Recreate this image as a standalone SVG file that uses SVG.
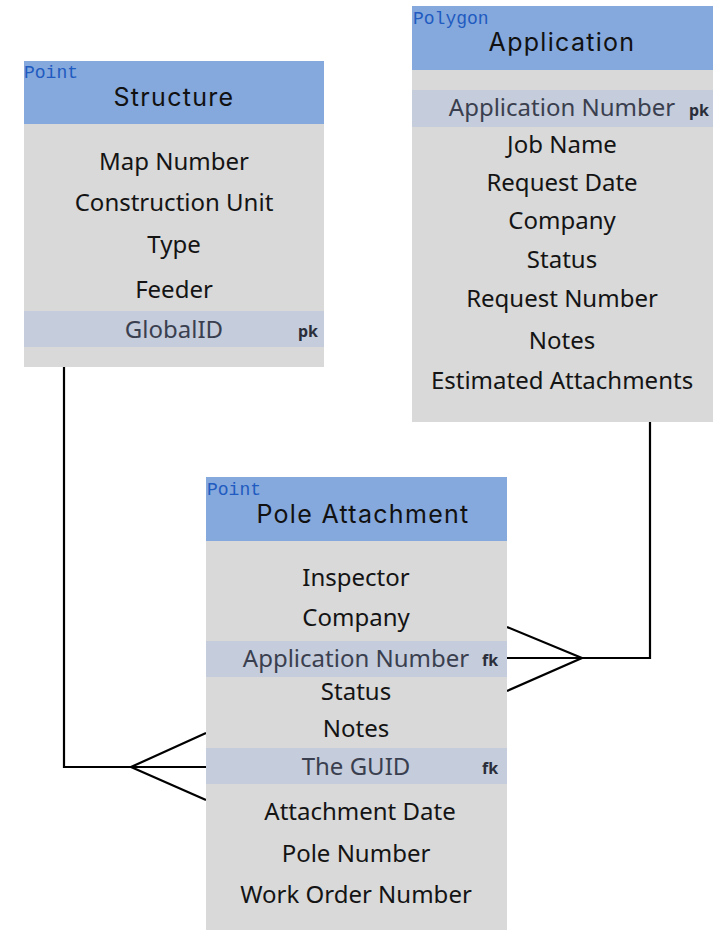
<svg xmlns="http://www.w3.org/2000/svg" width="715" height="930" viewBox="0 0 715 930">
<style>
.hdr{fill:#85A8DD}
.body{fill:#D9D9D9}
.band{fill:#C5CCDB}
.geom{font-family:"Liberation Mono","DejaVu Sans Mono",monospace;font-size:18px;fill:#1F5BC0}
.title{font-family:"Inter","Noto Sans",sans-serif;font-size:25px;fill:#111;text-anchor:middle;letter-spacing:1.3px}
.f{font-family:"Noto Sans","Open Sans",sans-serif;font-size:24px;fill:#141414;text-anchor:middle}
.k{font-family:"Noto Sans","Open Sans",sans-serif;font-size:24px;fill:#3a3f4f;text-anchor:middle}
.tag{font-family:"Noto Sans","Open Sans",sans-serif;font-size:16px;font-weight:bold;fill:#2a2e3a}
.c{fill:none;stroke:#000;stroke-width:2.2}
</style>
<rect width="715" height="930" fill="#fff"/>
<g id="connectors">
<polyline class="c" points="64,367 64,767 206,767"/>
<polyline class="c" points="206,733 131,767 206,800"/>
<polyline class="c" points="650,422 650,658 507,658"/>
<polyline class="c" points="507,627 582,658 507,691"/>
</g>
<g id="structure">
<rect class="body" x="24" y="61" width="300" height="306"/>
<rect class="hdr" x="24" y="61" width="300" height="63"/>
<rect class="band" x="24" y="311" width="300" height="36"/>
<text class="geom" x="24" y="78">Point</text>
<text class="title" x="174" y="106">Structure</text>
<text class="f" x="174" y="170">Map Number</text>
<text class="f" x="174" y="211">Construction Unit</text>
<text class="f" x="174" y="253">Type</text>
<text class="f" x="174" y="298">Feeder</text>
<text class="k" x="174" y="338">GlobalID</text>
<text class="tag" x="298" y="337">pk</text>
</g>
<g id="application">
<rect class="body" x="412" y="6" width="301" height="416"/>
<rect class="hdr" x="412" y="6" width="301" height="64"/>
<rect class="band" x="412" y="90" width="301" height="37"/>
<text class="geom" x="413" y="24">Polygon</text>
<text class="title" x="562" y="51">Application</text>
<text class="k" x="562" y="116">Application Number</text>
<text class="tag" x="689" y="116">pk</text>
<text class="f" x="562" y="153">Job Name</text>
<text class="f" x="562" y="191">Request Date</text>
<text class="f" x="562" y="229">Company</text>
<text class="f" x="562" y="268">Status</text>
<text class="f" x="562" y="307">Request Number</text>
<text class="f" x="562" y="349">Notes</text>
<text class="f" x="562" y="389">Estimated Attachments</text>
</g>
<g id="pole-attachment">
<rect class="body" x="206" y="477" width="301" height="453"/>
<rect class="hdr" x="206" y="477" width="301" height="64"/>
<rect class="band" x="206" y="641" width="301" height="36"/>
<rect class="band" x="206" y="748" width="301" height="36"/>
<text class="geom" x="207" y="495">Point</text>
<text class="title" x="363" y="523">Pole Attachment</text>
<text class="f" x="356" y="586">Inspector</text>
<text class="f" x="356" y="626">Company</text>
<text class="k" x="356" y="667">Application Number</text>
<text class="tag" x="482" y="666">fk</text>
<text class="f" x="356" y="700">Status</text>
<text class="f" x="356" y="737">Notes</text>
<text class="k" x="356" y="775">The GUID</text>
<text class="tag" x="482" y="774">fk</text>
<text class="f" x="360" y="820">Attachment Date</text>
<text class="f" x="356" y="862">Pole Number</text>
<text class="f" x="356" y="903">Work Order Number</text>
</g>
</svg>
